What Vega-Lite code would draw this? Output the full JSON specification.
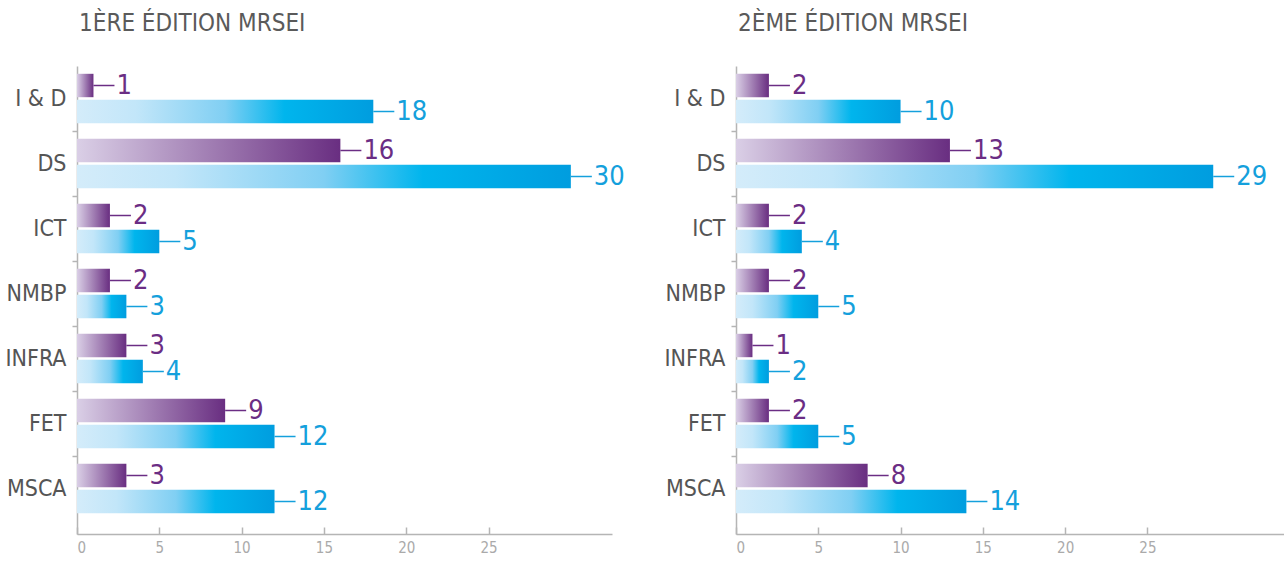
{
  "$schema": "https://vega.github.io/schema/vega-lite/v6.json",
  "padding": {"left": 4, "top": 12, "right": 0, "bottom": 0},
  "background": "white",
  "config": {
    "view": {"stroke": null},
    "font": "DejaVu Sans Condensed, sans-serif",
    "title": {"fontSize": 24, "fontWeight": "normal", "color": "#5a5a5a", "anchor": "start", "frame": "group", "offset": 30, "dx": 2, "font": "DejaVu Sans Condensed, sans-serif"},
    "concat": {"spacing": 38}
  },
  "data": {
    "values": [
      {"edition": "1", "categorie": "I & D", "serie": "A", "valeur": 1},
      {"edition": "1", "categorie": "I & D", "serie": "B", "valeur": 18},
      {"edition": "1", "categorie": "DS", "serie": "A", "valeur": 16},
      {"edition": "1", "categorie": "DS", "serie": "B", "valeur": 30},
      {"edition": "1", "categorie": "ICT", "serie": "A", "valeur": 2},
      {"edition": "1", "categorie": "ICT", "serie": "B", "valeur": 5},
      {"edition": "1", "categorie": "NMBP", "serie": "A", "valeur": 2},
      {"edition": "1", "categorie": "NMBP", "serie": "B", "valeur": 3},
      {"edition": "1", "categorie": "INFRA", "serie": "A", "valeur": 3},
      {"edition": "1", "categorie": "INFRA", "serie": "B", "valeur": 4},
      {"edition": "1", "categorie": "FET", "serie": "A", "valeur": 9},
      {"edition": "1", "categorie": "FET", "serie": "B", "valeur": 12},
      {"edition": "1", "categorie": "MSCA", "serie": "A", "valeur": 3},
      {"edition": "1", "categorie": "MSCA", "serie": "B", "valeur": 12},
      {"edition": "2", "categorie": "I & D", "serie": "A", "valeur": 2},
      {"edition": "2", "categorie": "I & D", "serie": "B", "valeur": 10},
      {"edition": "2", "categorie": "DS", "serie": "A", "valeur": 13},
      {"edition": "2", "categorie": "DS", "serie": "B", "valeur": 29},
      {"edition": "2", "categorie": "ICT", "serie": "A", "valeur": 2},
      {"edition": "2", "categorie": "ICT", "serie": "B", "valeur": 4},
      {"edition": "2", "categorie": "NMBP", "serie": "A", "valeur": 2},
      {"edition": "2", "categorie": "NMBP", "serie": "B", "valeur": 5},
      {"edition": "2", "categorie": "INFRA", "serie": "A", "valeur": 1},
      {"edition": "2", "categorie": "INFRA", "serie": "B", "valeur": 2},
      {"edition": "2", "categorie": "FET", "serie": "A", "valeur": 2},
      {"edition": "2", "categorie": "FET", "serie": "B", "valeur": 5},
      {"edition": "2", "categorie": "MSCA", "serie": "A", "valeur": 8},
      {"edition": "2", "categorie": "MSCA", "serie": "B", "valeur": 14}
    ]
  },
  "hconcat": [
    {
      "title": "1ÈRE ÉDITION MRSEI",
      "width": 535,
      "height": 468,
      "transform": [{"filter": "datum.edition === '1'"}],
      "encoding": {
        "y": {"field": "categorie", "type": "nominal", "sort": ["I & D", "DS", "ICT", "NMBP", "INFRA", "FET", "MSCA"],
          "scale": {"paddingInner": 0, "paddingOuter": 0.1, "align": 0},
          "axis": {"title": null, "bandPosition": 0, "domainColor": "#b5b5b5", "domainWidth": 1.5, "tickColor": "#b5b5b5", "tickWidth": 1.5, "tickSize": 5,
            "tickOpacity": {"condition": {"test": "datum.value === 'I & D'", "value": 0}, "value": 1},
            "labelFontSize": 23, "labelColor": "#555555", "labelPadding": 6, "labelBound": false}},
        "yOffset": {"field": "serie", "type": "nominal", "scale": {"domain": ["A", "B"], "paddingInner": 0.1, "paddingOuter": 0.3}},
        "x": {"field": "valeur", "type": "quantitative", "scale": {"domain": [0, 32.5], "nice": false},
          "axis": {"title": null, "values": [0, 5, 10, 15, 20, 25], "grid": false, "domainColor": "#b5b5b5", "domainWidth": 1.5, "tickColor": "#b5b5b5", "tickWidth": 1.5, "tickSize": -7, "labelFontSize": 15, "labelColor": "#aaaaaa", "labelPadding": 13}}
      },
      "layer": [
        {
          "mark": {"type": "bar", "cornerRadius": 0},
          "encoding": {
            "color": {
              "condition": {"test": "datum.serie === 'A'", "value": {"gradient": "linear", "x1": 0, "x2": 1, "y1": 0, "y2": 0, "stops": [{"offset": 0, "color": "#dacfe6"}, {"offset": 1, "color": "#692e81"}]}},
              "value": {"gradient": "linear", "x1": 0, "x2": 1, "y1": 0, "y2": 0, "stops": [{"offset": 0, "color": "#d4ecfa"}, {"offset": 0.2, "color": "#c2e6f9"}, {"offset": 0.5, "color": "#80cff3"}, {"offset": 0.7, "color": "#00b5ed"}, {"offset": 1, "color": "#009ddf"}]}
            }
          }
        },
        {
          "mark": {"type": "rule", "x2Offset": 21, "strokeWidth": 1.5},
          "encoding": {
            "x2": {"field": "valeur"},
            "color": {"field": "serie", "type": "nominal", "scale": {"domain": ["A", "B"], "range": ["#6b2d84", "#14a0dc"]}, "legend": null}
          }
        },
        {
          "mark": {"type": "text", "align": "left", "baseline": "middle", "dx": 23, "fontSize": 27},
          "encoding": {
            "text": {"field": "valeur", "type": "quantitative"},
            "color": {"field": "serie", "type": "nominal", "scale": {"domain": ["A", "B"], "range": ["#6b2d84", "#14a0dc"]}, "legend": null}
          }
        }
      ]
    },
    {
      "title": "2ÈME ÉDITION MRSEI",
      "width": 548,
      "height": 468,
      "transform": [{"filter": "datum.edition === '2'"}],
      "encoding": {
        "y": {"field": "categorie", "type": "nominal", "sort": ["I & D", "DS", "ICT", "NMBP", "INFRA", "FET", "MSCA"],
          "scale": {"paddingInner": 0, "paddingOuter": 0.1, "align": 0},
          "axis": {"title": null, "bandPosition": 0, "domainColor": "#b5b5b5", "domainWidth": 1.5, "tickColor": "#b5b5b5", "tickWidth": 1.5, "tickSize": 5,
            "tickOpacity": {"condition": {"test": "datum.value === 'I & D'", "value": 0}, "value": 1},
            "labelFontSize": 23, "labelColor": "#555555", "labelPadding": 6, "labelBound": false}},
        "yOffset": {"field": "serie", "type": "nominal", "scale": {"domain": ["A", "B"], "paddingInner": 0.1, "paddingOuter": 0.3}},
        "x": {"field": "valeur", "type": "quantitative", "scale": {"domain": [0, 33.3], "nice": false},
          "axis": {"title": null, "values": [0, 5, 10, 15, 20, 25], "grid": false, "domainColor": "#b5b5b5", "domainWidth": 1.5, "tickColor": "#b5b5b5", "tickWidth": 1.5, "tickSize": -7, "labelFontSize": 15, "labelColor": "#aaaaaa", "labelPadding": 13}}
      },
      "layer": [
        {
          "mark": {"type": "bar", "cornerRadius": 0},
          "encoding": {
            "color": {
              "condition": {"test": "datum.serie === 'A'", "value": {"gradient": "linear", "x1": 0, "x2": 1, "y1": 0, "y2": 0, "stops": [{"offset": 0, "color": "#dacfe6"}, {"offset": 1, "color": "#692e81"}]}},
              "value": {"gradient": "linear", "x1": 0, "x2": 1, "y1": 0, "y2": 0, "stops": [{"offset": 0, "color": "#d4ecfa"}, {"offset": 0.2, "color": "#c2e6f9"}, {"offset": 0.5, "color": "#80cff3"}, {"offset": 0.7, "color": "#00b5ed"}, {"offset": 1, "color": "#009ddf"}]}
            }
          }
        },
        {
          "mark": {"type": "rule", "x2Offset": 21, "strokeWidth": 1.5},
          "encoding": {
            "x2": {"field": "valeur"},
            "color": {"field": "serie", "type": "nominal", "scale": {"domain": ["A", "B"], "range": ["#6b2d84", "#14a0dc"]}, "legend": null}
          }
        },
        {
          "mark": {"type": "text", "align": "left", "baseline": "middle", "dx": 23, "fontSize": 27},
          "encoding": {
            "text": {"field": "valeur", "type": "quantitative"},
            "color": {"field": "serie", "type": "nominal", "scale": {"domain": ["A", "B"], "range": ["#6b2d84", "#14a0dc"]}, "legend": null}
          }
        }
      ]
    }
  ]
}
